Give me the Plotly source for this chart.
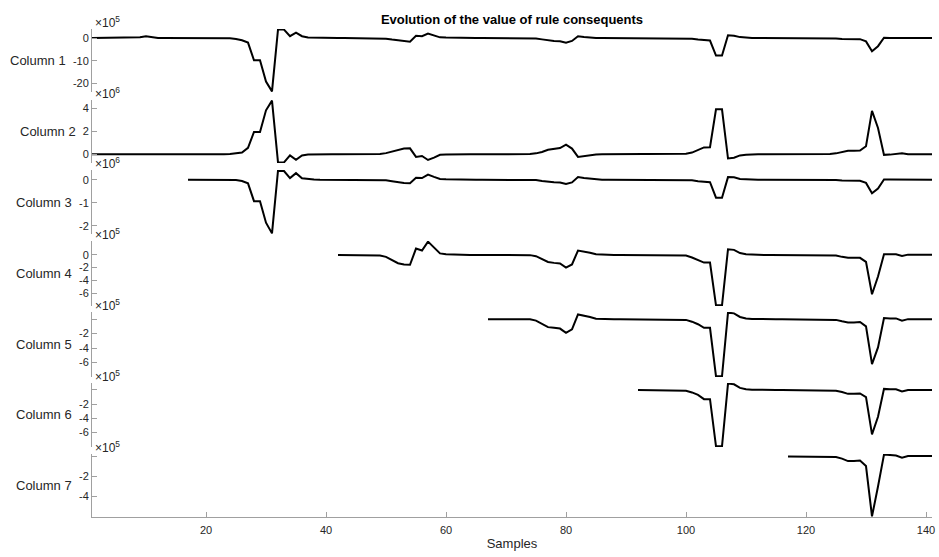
import plotly.graph_objects as go

# ---------------- data (values in displayed units, i.e. value / 10^exponent) ----------------
samples = list(range(1, 142))
column_names = ["Column 1", "Column 2", "Column 3", "Column 4", "Column 5", "Column 6", "Column 7"]
exponents = [5, 6, 6, 5, 5, 5, 5]
start_sample = [1, 1, 17, 42, 67, 92, 117]

col1 = [0, 0, 0, 0, 0, 0, 0, 0, 0.3, 0.8,
        0.3, 0.05, 0, 0, 0, 0, 0, 0, 0, 0,
        0, 0, -0.05, -0.15, -0.4, -1.0, -2.0, -9.8, -9.8, -19.2,
        -23.5, 3.7, 3.7, 0.8, 2.4, 0.8, 0.2, 0.1, 0.05, 0.02,
        0, 0, 0, 0, 0, 0, 0, -0.05, -0.1, -0.3,
        -0.7, -1.1, -1.5, -1.6, 1.0, 0.8, 2.0, 1.2, 0.3, 0.2,
        0.1, 0, 0, 0, 0, 0, 0, 0, 0, 0,
        0, 0, 0, -0.05, -0.2, -0.6, -1.1, -1.3, -1.4, -2.1,
        -1.3, 0.8, 0.5, 0.2, 0.05, 0, 0, 0, 0, 0,
        0, 0, 0, 0, 0, 0, 0, 0, -0.02, -0.1,
        -0.3, -0.7, -1.0, -1.1, -7.7, -7.7, 1.2, 1.0, 0.4, 0.15,
        0.05, 0, 0, 0, 0, 0, 0, 0, 0, 0,
        0, 0, 0, -0.05, -0.2, -0.45, -0.5, -0.5, -0.5, -1.5,
        -5.8, -3.6, 0.1, 0.05, 0.05, -0.1, 0, 0, 0, 0,
        0]

col2 = [0, 0, 0, 0, 0, 0, 0, 0, 0, -0.03,
        -0.05, -0.03, -0.01, 0, 0, 0, 0, 0, 0, 0,
        0, 0, 0.01, 0.02, 0.06, 0.15, 0.57, 1.95, 1.95, 3.85,
        4.7, -0.71, -0.71, -0.1, -0.49, -0.1, -0.03, -0.01, 0, 0,
        0, 0, 0, 0, 0, 0, 0, 0.01, 0.03, 0.1,
        0.22, 0.37, 0.5, 0.52, -0.23, -0.15, -0.5, -0.3, -0.05, -0.02,
        0, 0, 0, 0, 0, 0, 0, 0, 0, 0,
        0, 0, 0, 0.02, 0.08, 0.2, 0.4, 0.5, 0.55, 0.85,
        0.5, -0.23, -0.15, -0.05, -0.01, 0, 0, 0, 0, 0,
        0, 0, 0, 0, 0, 0, 0, 0, 0.02, 0.05,
        0.15, 0.4, 0.6, 0.62, 3.94, 3.94, -0.37, -0.3, -0.1, -0.04,
        0, 0, 0, 0, 0, 0, 0, 0, 0, 0,
        0, 0, 0, 0.02, 0.08, 0.2, 0.3, 0.3, 0.32, 0.7,
        3.8, 2.3, -0.05, -0.03, 0.03, 0.08, 0, 0, 0, 0,
        0]

col3 = [0, 0, 0, 0,
        0, 0, 0, -0.005, -0.02, -0.06, -0.16, -0.93, -0.93, -1.86,
        -2.32, 0.39, 0.37, 0.07, 0.28, 0.06, 0.02, 0.01, 0, 0,
        0, 0, 0, 0, 0, 0, 0, -0.005, -0.01, -0.03,
        -0.07, -0.11, -0.14, -0.15, 0.08, 0.07, 0.22, 0.12, 0.03, 0.02,
        0.01, 0, 0, 0, 0, 0, 0, 0, 0, 0,
        0, 0, 0, -0.005, -0.02, -0.06, -0.1, -0.11, -0.12, -0.19,
        -0.12, 0.11, 0.07, 0.04, 0.01, 0, 0, 0, 0, 0,
        0, 0, 0, 0, 0, 0, 0, 0, 0, -0.01,
        -0.03, -0.07, -0.1, -0.11, -0.78, -0.78, 0.11, 0.1, 0.03, 0.01,
        0, 0, 0, 0, 0, 0, 0, 0, 0, 0,
        0, 0, 0, -0.005, -0.02, -0.04, -0.05, -0.05, -0.05, -0.14,
        -0.59, -0.38, 0.01, 0.01, 0.01, -0.01, 0, 0, 0, 0,
        0]

col4 = [0, 0, 0, 0, 0, 0, -0.05, -0.1, -0.3,
        -0.8, -1.3, -1.5, -1.55, 1.0, 0.7, 2.1, 1.1, 0.25, 0.1,
        0.05, 0, 0, 0, 0, 0, 0, 0, 0, 0,
        0, 0, 0, -0.03, -0.2, -0.6, -1.1, -1.25, -1.35, -2.0,
        -1.5, 0.7, 0.55, 0.35, 0.1, 0.03, 0, 0, 0, 0,
        0, 0, 0, 0, 0, 0, 0, 0, -0.02, -0.1,
        -0.4, -0.85, -1.2, -1.2, -7.95, -7.95, 0.9, 0.8, 0.3, 0.1,
        0.03, 0, 0, 0, 0, 0, 0, 0, 0, 0,
        0, 0, 0, -0.03, -0.1, -0.3, -0.45, -0.45, -0.45, -1.1,
        -6.2, -3.4, 0.1, 0.1, 0.1, -0.15, 0.05, 0.05, 0.05, 0.05,
        0.05]

col5 = [0, 0, 0, 0,
        0, 0, 0, -0.03, -0.2, -0.6, -1.1, -1.2, -1.3, -1.9,
        -1.4, 0.65, 0.5, 0.3, 0.05, 0, 0, 0, 0, 0,
        0, 0, 0, 0, 0, 0, 0, 0, -0.02, -0.1,
        -0.35, -0.7, -1.2, -1.2, -7.9, -7.9, 0.9, 0.8, 0.3, 0.1,
        0.03, 0, 0, 0, 0, 0, 0, 0, 0, 0,
        0, 0, 0, -0.03, -0.1, -0.3, -0.45, -0.45, -0.4, -1.0,
        -6.2, -3.9, 0.15, 0.1, 0.1, -0.2, 0, 0, 0, 0,
        0]

col6 = [0, 0, 0, 0, 0, 0, 0, -0.02, -0.1,
        -0.35, -0.7, -1.3, -1.3, -8.0, -8.0, 0.9, 0.8, 0.3, 0.1,
        0.03, 0, 0, 0, 0, 0, 0, 0, 0, 0,
        0, 0, 0, -0.03, -0.1, -0.3, -0.55, -0.55, -0.5, -1.0,
        -6.3, -3.8, 0.15, 0.1, 0.1, -0.2, 0, 0, 0, 0,
        0]

col7 = [0, 0, 0, 0,
        0, 0, 0, -0.02, -0.05, -0.2, -0.45, -0.45, -0.4, -0.95,
        -6.0, -3.0, 0.2, 0.15, 0.1, -0.1, 0.05, 0.05, 0.05, 0.05,
        0.05]

columns = [col1, col2, col3, col4, col5, col6, col7]

tick_values = [[-20, -10, 0], [0, 2, 4], [-2, -1, 0], [-6, -4, -2, 0],
               [-6, -4, -2, 0], [-6, -4, -2, 0], [-4, -2, 0]]
tick_labels = [["-20", "-10", "0"], ["0", "2", "4"], ["-2", "-1", "0"], ["-6", "-4", "-2", "0"],
               ["-6", "-4", "-2", ""], ["-6", "-4", "-2", ""], ["-4", "-2", ""]]
x_ticks = [20, 40, 60, 80, 100, 120, 140]

# ---------------- layout geometry (page pixels; page body margin removed below) ----------------
W, H = 939, 557
ML, MR, MT, MB = 92, 7, 29, 40
PLOT_H = H - MT - MB
PLOT_W = W - ML - MR
panel_px = [(29, 92), (100, 163), (170, 234), (241, 306), (312, 377), (383, 447), (454, 517)]
label_right_px = [68, 78, 74, 74, 74, 74, 74]

AXIS_GRAY = "#a0a0a0"
TEXT = "#262626"
FONT = "Liberation Sans, Arial, Helvetica, sans-serif"

fig = go.Figure()
layout = dict(
    width=W, height=H,
    margin=dict(l=ML, r=MR, t=MT, b=MB, autoexpand=False),
    paper_bgcolor="white", plot_bgcolor="white",
    showlegend=False,
    font=dict(family=FONT, size=11, color=TEXT),
)

annotations = []
for i, (name, vals, st) in enumerate(zip(column_names, columns, start_sample)):
    xs = samples[st - 1:]
    assert len(xs) == len(vals), (name, len(xs), len(vals))
    yname = "y" if i == 0 else f"y{i + 1}"
    fig.add_trace(go.Scatter(x=xs, y=vals, mode="lines", xaxis="x", yaxis=yname,
                             line=dict(color="black", width=2), hoverinfo="skip"))
    top, bot = panel_px[i]
    dom = [(H - MB - bot) / PLOT_H, (H - MB - top) / PLOT_H]
    vmin, vmax = min(vals), max(vals)
    pad = 0.01 * (vmax - vmin)
    key = "yaxis" if i == 0 else f"yaxis{i + 1}"
    layout[key] = dict(
        domain=dom, anchor="x", range=[vmin - pad, vmax + pad], automargin=False,
        showline=True, linecolor=AXIS_GRAY, linewidth=1,
        ticks="inside", ticklen=5, tickcolor=AXIS_GRAY, tickwidth=1,
        tickvals=tick_values[i], ticktext=tick_labels[i],
        tickfont=dict(size=11, color=TEXT, family=FONT),
        showgrid=False, zeroline=False, fixedrange=True,
    )
    mid = (top + bot) / 2
    annotations.append(dict(
        text=name, xref="paper", yref="paper",
        x=(label_right_px[i] - ML) / PLOT_W, y=(H - MB - mid) / PLOT_H,
        xanchor="right", yanchor="middle", showarrow=False,
        font=dict(size=13, color=TEXT, family=FONT)))
    annotations.append(dict(
        text=f"×10<sup>{exponents[i]}</sup>", xref="paper", yref="paper",
        x=0.001, y=(H - MB - top) / PLOT_H,
        xanchor="left", yanchor="bottom", showarrow=False, yshift=-3,
        font=dict(size=12, color=TEXT, family=FONT)))

layout["xaxis"] = dict(
    domain=[0, 1], anchor="y7", range=[1, 141], automargin=False,
    showline=True, linecolor=AXIS_GRAY, linewidth=1,
    ticks="inside", ticklen=5, tickcolor=AXIS_GRAY, tickwidth=1,
    tickvals=x_ticks, tickfont=dict(size=11, color=TEXT, family=FONT),
    ticklabelstandoff=3, ticklabeloverflow="allow",
    showgrid=False, zeroline=False, fixedrange=True,
    title=dict(text="Samples", font=dict(size=13, color=TEXT, family=FONT), standoff=3),
)
layout["title"] = dict(
    text="<b>Evolution of the value of rule consequents</b>", automargin=False,
    x=512 / W, xanchor="center", y=1 - 19 / H, yanchor="middle",
    font=dict(size=13, color="black", family=FONT))
layout["annotations"] = annotations
fig.update_layout(**layout)

fig.write_html(
    "out.html",
    config={"displayModeBar": False, "staticPlot": True},
    post_script="document.body.style.margin='0px';document.body.style.overflow='hidden';",
)
